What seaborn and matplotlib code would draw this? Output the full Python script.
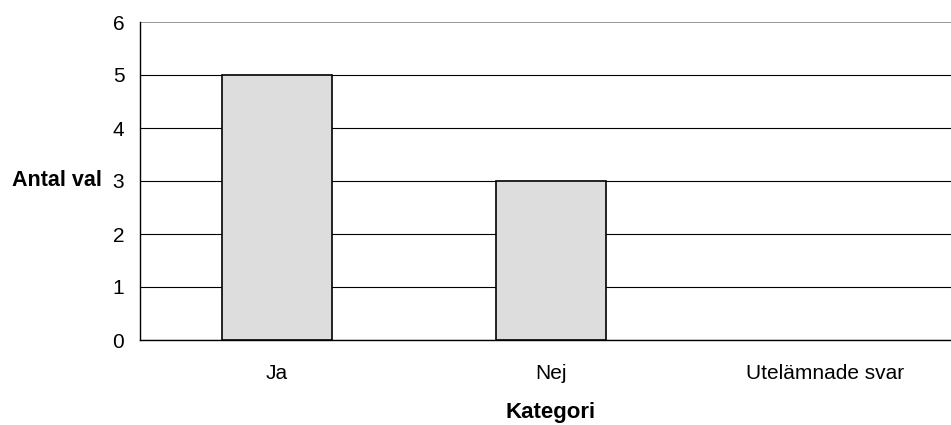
import matplotlib
matplotlib.use("Agg")
import matplotlib.pyplot as plt
import seaborn as sns

categories = ["Ja", "Nej", "Utelämnade svar"]
values = [5, 3, 0]
yticks = [0, 1, 2, 3, 4, 5, 6]

sns.set_style("white")
plt.rcParams["font.family"] = ["Liberation Sans", "DejaVu Sans"]
plt.rcParams.update({"text.color": "black", "axes.labelcolor": "black",
                     "xtick.color": "black", "ytick.color": "black"})

fig = plt.figure(figsize=(9.51, 4.25), dpi=100)
ax = fig.add_axes([140/951, 85/425, 822/951, 318/425])

sns.barplot(x=categories, y=values, color="#DDDDDD", edgecolor="black",
            linewidth=1.2, width=0.4, saturation=1, ax=ax, zorder=3)
for p in ax.patches:
    if p.get_height() == 0:
        p.set_linewidth(0)

ax.set_xlim(-0.5, 2.5)
ax.set_ylim(0, 6)
ax.set_yticks(yticks)
ax.set_yticklabels([str(t) for t in yticks], fontsize=15)
ax.yaxis.grid(True, color="black", linewidth=0.8)
ax.get_ygridlines()[-1].set_color("#888888")
ax.get_ygridlines()[-1].set_linewidth(1.2)
ax.set_axisbelow(True)

for s in ["top", "right"]:
    ax.spines[s].set_visible(False)
for s in ["left", "bottom"]:
    ax.spines[s].set_color("black")
    ax.spines[s].set_linewidth(1.0)

ax.set_xticks(range(len(categories)))
ax.set_xticklabels(categories, fontsize=15)
ax.tick_params(axis="x", which="major", length=0, pad=17, labelcolor="black")
ax.set_xticks([-0.5, 0.5, 1.5, 2.5], minor=True)
ax.tick_params(axis="x", which="minor", length=4, width=1, color="black", direction="out")
ax.tick_params(axis="y", length=4.3, width=1, color="black", direction="out", pad=7,
               labelcolor="black")

ax.set_ylabel("Antal val", fontsize=15.5, fontweight="bold", rotation=0,
              ha="right", va="center", color="black")
ax.yaxis.set_label_coords(-0.046, 0.5)
ax.set_xlabel("Kategori", fontsize=16, fontweight="bold", va="center", color="black")
ax.xaxis.set_label_coords(0.5, -0.228)

fig.savefig("out.png", dpi=100)
